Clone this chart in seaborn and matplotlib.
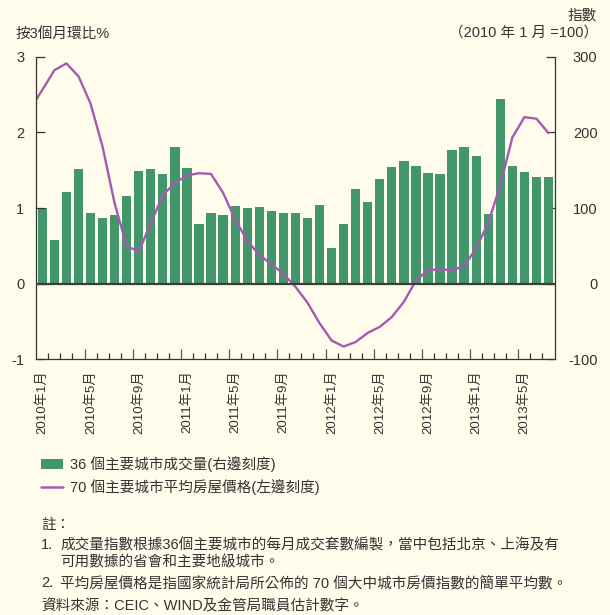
# HKMA-style chart: 36-city transaction volume (bars, right axis)
# and 70-city average house price 3-month change (line, left axis)

import numpy as np
import pandas as pd
import matplotlib
matplotlib.use("Agg")
import matplotlib.pyplot as plt
import seaborn as sns
from matplotlib.patches import Patch
from matplotlib.lines import Line2D


# monthly bars: 2010-01 .. 2013-07, index 2010-01 = 100
volume = [100, 58, 121, 152, 93, 87, 91, 116, 149, 152,
          145, 181, 153, 79, 93, 91, 103, 100, 101, 96,
          93, 93, 87, 104, 47, 79, 125, 108, 138, 154,
          162, 155, 146, 145, 177, 181, 169, 92, 244, 155,
          148, 141, 141]

# 3-month % change; first value is 2009-12 (line enters from the left edge)
price_change = [2.31,
                2.56, 2.82, 2.91, 2.74, 2.38, 1.81, 1.06, 0.50, 0.42, 0.80,
                1.17, 1.33, 1.43, 1.46, 1.45, 1.20, 0.85, 0.57, 0.38, 0.26,
                0.13, -0.04, -0.25, -0.52, -0.75, -0.83, -0.77, -0.65, -0.57, -0.44,
                -0.24, 0.04, 0.18, 0.19, 0.18, 0.23, 0.47, 0.80, 1.30, 1.93,
                2.20, 2.18, 1.99]

tick_labels = ["2010年1月", "2010年5月", "2010年9月", "2011年1月", "2011年5月",
               "2011年9月", "2012年1月", "2012年5月", "2012年9月", "2013年1月",
               "2013年5月"]

left_ticks = [-1, 0, 1, 2, 3]
right_ticks = [-100, 0, 100, 200, 300]

legend_labels = ["36 個主要城市成交量(右邊刻度)", "70 個主要城市平均房屋價格(左邊刻度)"]

BG = "#fffcec"
GREEN = "#43966b"
PURPLE = "#a55ab2"
TEXT = "#333333"
FS = 10.5


def main():
    sns.set_style("ticks")
    plt.rcParams["font.family"] = ["Liberation Sans", "Noto Sans CJK TC", "DejaVu Sans"]
    plt.rcParams["text.color"] = TEXT
    plt.rcParams["axes.edgecolor"] = "#333333"

    n = len(volume)
    bars = pd.DataFrame({"pos": np.arange(n), "volume": volume})
    line = pd.DataFrame({"pos": np.arange(-1, n), "change": price_change})

    fig = plt.figure(figsize=(6.1, 6.15), dpi=100, facecolor=BG)
    ax = fig.add_axes([36.3 / 610, 1 - 359.4 / 615, (554.5 - 36.3) / 610, (359.4 - 56.6) / 615])
    ax2 = ax.twinx()

    sns.barplot(data=bars, x="pos", y="volume", native_scale=True, ax=ax2,
                color=GREEN, saturation=1, width=0.77, linewidth=0)
    sns.lineplot(data=line, x="pos", y="change", ax=ax, color=PURPLE, lw=1.7)
    ax.axhline(0, color="#3c3c3c", lw=1.6, zorder=5)

    # line axes above the bars
    ax.set_zorder(ax2.get_zorder() + 1)
    ax.patch.set_visible(False)
    ax2.patch.set_visible(False)

    ax.set_xlim(-0.5, n - 0.5)
    ax.set_ylim(-1, 3)
    ax2.set_ylim(-100, 300)

    ax.set_yticks(left_ticks, [str(t) for t in left_ticks])
    ax2.set_yticks(right_ticks, [str(t) for t in right_ticks])
    ax.tick_params(axis="y", direction="in", length=6.5, width=0.9, pad=8.5,
                   labelsize=FS, labelcolor=TEXT, colors="#333333")
    ax2.tick_params(axis="y", direction="in", length=6.5, width=0.9, pad=31,
                    labelsize=FS, labelcolor=TEXT, colors="#333333")
    for lbl in ax2.get_yticklabels():
        lbl.set_horizontalalignment("right")

    # month boundaries: long ticks before labelled months, short otherwise
    label_pos = np.arange(0, n, 4)
    major_edges = label_pos[1:] - 0.5
    minor_edges = [e for e in np.arange(0.5, n - 0.5) if e not in major_edges]
    ax.set_xticks(major_edges)
    ax.set_xticks(minor_edges, minor=True)
    ax.set_xticklabels([])
    ax.tick_params(axis="x", which="major", direction="in", length=7, width=0.9, colors="#555555")
    ax.tick_params(axis="x", which="minor", direction="in", length=4, width=0.9, colors="#333333")
    ax.set_xlabel("")
    ax.set_ylabel("")
    ax2.set_ylabel("")

    sec = ax.secondary_xaxis("bottom")
    sec.set_xticks(label_pos, tick_labels, rotation=90)
    sec.tick_params(length=0, pad=8, labelsize=9.5, labelcolor=TEXT)
    sec.spines["bottom"].set_visible(False)

    for a in (ax, ax2):
        a.spines["top"].set_visible(False)
    ax.spines["right"].set_visible(False)
    ax2.spines["left"].set_visible(False)
    ax2.spines["bottom"].set_visible(False)
    ax.spines["left"].set_linewidth(0.9)
    ax.spines["bottom"].set_linewidth(0.9)
    ax2.spines["right"].set_linewidth(0.9)

    # axis titles
    fig.text(16 / 610, 1 - 34 / 615, "按3個月環比%", fontsize=FS, va="center", ha="left")
    fig.text(597 / 610, 1 - 15 / 615, "指數", fontsize=FS, va="center", ha="right")
    fig.text(598 / 610, 1 - 33 / 615, "（2010 年 1 月 =100）", fontsize=FS, va="center", ha="right")

    handles = [Patch(facecolor=GREEN, edgecolor="none"),
               Line2D([0], [0], color=PURPLE, lw=1.8)]
    fig.legend(handles, legend_labels, loc="upper left",
               bbox_to_anchor=(41 / 610, 1 - 456 / 615), frameon=False, fontsize=FS,
               handlelength=1.5, handleheight=0.7, handletextpad=0.5,
               labelspacing=0.5, borderpad=0, borderaxespad=0)

    # notes
    x0, x1 = 41 / 610, 60 / 610
    fig.text(x0, 1 - 525 / 615, "註：", fontsize=FS, va="center")
    fig.text(x0, 1 - 545 / 615, "1.", fontsize=FS, va="center")
    fig.text(x1, 1 - 545 / 615, "成交量指數根據36個主要城市的每月成交套數編製，當中包括北京、上海及有",
             fontsize=FS, va="center")
    fig.text(x1, 1 - 562 / 615, "可用數據的省會和主要地級城市。", fontsize=FS, va="center")
    fig.text(x0, 1 - 583 / 615, "2.", fontsize=FS, va="center")
    fig.text(x1, 1 - 583 / 615, "平均房屋價格是指國家統計局所公佈的 70 個大中城市房價指數的簡單平均數。",
             fontsize=FS, va="center")
    fig.text(x0, 1 - 606 / 615, "資料來源：CEIC、WIND及金管局職員估計數字。", fontsize=FS, va="center")

    fig.savefig("out.png", dpi=100, facecolor=BG)


if __name__ == "__main__":
    main()
